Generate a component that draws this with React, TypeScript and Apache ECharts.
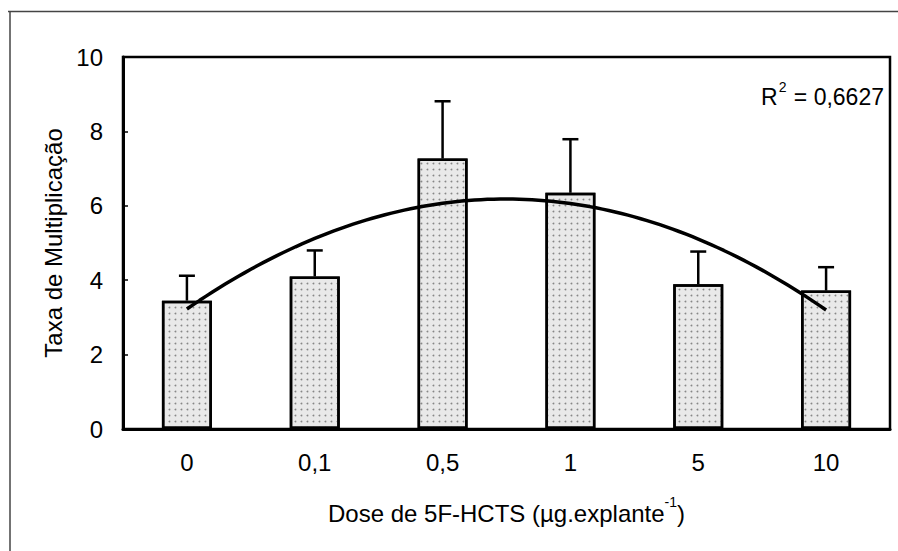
import React, { useEffect, useRef } from "react";
import * as echarts from "echarts";

const categories = ["0", "0,1", "0,5", "1", "5", "10"];
const means = [3.45, 4.1, 7.27, 6.35, 3.89, 3.72];
const errorTops = [4.12, 4.8, 8.81, 7.79, 4.77, 4.35];
const yTicks = [0, 2, 4, 6, 8, 10];
const r2Value = "0,6627";
const xTitleMain = "Dose de 5F-HCTS (µg.explante";
const xTitleSup = "-1";
const yTitle = "Taxa de Multiplicação";

// quadratic least-squares trendline fitted on category positions 1..n
function fitQuadratic(ys: number[]) {
  const n = ys.length;
  const xs = ys.map((_, i) => i + 1);
  let s0 = n, s1 = 0, s2 = 0, s3 = 0, s4 = 0, t0 = 0, t1 = 0, t2 = 0;
  xs.forEach((x, i) => {
    const y = ys[i];
    s1 += x; s2 += x * x; s3 += x ** 3; s4 += x ** 4;
    t0 += y; t1 += x * y; t2 += x * x * y;
  });
  const M = [
    [s0, s1, s2, t0],
    [s1, s2, s3, t1],
    [s2, s3, s4, t2],
  ];
  for (let c = 0; c < 3; c++) {
    for (let r = c + 1; r < 3; r++) {
      const f = M[r][c] / M[c][c];
      for (let k = c; k < 4; k++) M[r][k] -= f * M[c][k];
    }
  }
  const sol = [0, 0, 0];
  for (let r = 2; r >= 0; r--) {
    let s = M[r][3];
    for (let k = r + 1; k < 3; k++) s -= M[r][k] * sol[k];
    sol[r] = s / M[r][r];
  }
  return (x: number) => sol[0] + sol[1] * x + sol[2] * x * x;
}

export default function App() {
  const ref = useRef<HTMLDivElement>(null);
  useEffect(() => {
    if (!ref.current) return;
    const chart = echarts.init(ref.current, undefined, { renderer: "svg" });
    const f = fitQuadratic(means);
    const trend: number[][] = [];
    for (let k = 0; k <= 100; k++) {
      const x = 1 + (5 * k) / 100;
      trend.push([x, f(x)]);
    }
    const font = "'Liberation Sans', Arial, sans-serif";
    chart.setOption({
      animation: false,
      backgroundColor: "#fff",
      textStyle: { fontFamily: font, color: "#000" },
      graphic: [
        { type: "line", shape: { x1: 8, y1: 11.5, x2: 898, y2: 11.5 }, style: { stroke: "#444", lineWidth: 1.5 } },
        { type: "line", shape: { x1: 10, y1: 11, x2: 10, y2: 551 }, style: { stroke: "#444", lineWidth: 1.5 } },
        {
          type: "text",
          right: 14,
          top: 80,
          style: {
            text: "{b|R}{s|2}{b| = " + r2Value + "}",
            fontFamily: font,
            fill: "#000",
            rich: {
              b: { fontSize: 23, fontFamily: font, fill: "#000", verticalAlign: "bottom", lineHeight: 28 },
              s: { fontSize: 14, fontFamily: font, fill: "#000", verticalAlign: "top", lineHeight: 28, padding: [0, 1, 12, 1] },
            },
          },
        },
      ],
      grid: {
        left: 123,
        right: 8,
        top: 57,
        bottom: 122,
        show: true,
        borderColor: "#000",
        borderWidth: 2.5,
        backgroundColor: "transparent",
      },
      xAxis: [
        {
          type: "category",
          data: categories,
          name: "{b|" + xTitleMain + "}{s|" + xTitleSup + "}{b|)}",
          nameLocation: "middle",
          nameGap: 66,
          nameTextStyle: {
            fontSize: 24,
            color: "#000",
            fontFamily: font,
            rich: {
              b: { fontSize: 24, fontFamily: font, color: "#000", lineHeight: 30, verticalAlign: "bottom" },
              s: { fontSize: 14, fontFamily: font, color: "#000", lineHeight: 30, verticalAlign: "top", padding: [0, 0, 12, 0] },
            },
          },
          axisLine: { lineStyle: { color: "#000", width: 3 } },
          axisTick: { show: false },
          axisLabel: { fontSize: 24, color: "#000", margin: 21, fontFamily: font },
        },
        {
          type: "value",
          min: 0.5,
          max: 6.5,
          show: false,
        },
      ],
      yAxis: {
        type: "value",
        min: 0,
        max: 10,
        interval: 2,
        name: yTitle,
        nameLocation: "middle",
        nameGap: 58,
        nameTextStyle: { fontSize: 24, color: "#000", fontFamily: font },
        axisLine: { show: true, lineStyle: { color: "#000", width: 3 } },
        axisTick: { show: true, inside: true, length: 5, lineStyle: { color: "#000", width: 1.5 } },
        axisLabel: {
          fontSize: 24,
          color: "#000",
          margin: 20,
          fontFamily: font,
          formatter: (v: number) => (yTicks.includes(v) ? String(v) : ""),
        },
        splitLine: { show: false },
      },
      series: [
        {
          type: "bar",
          data: means,
          barWidth: 50,
          itemStyle: {
            color: "#e9e9e9",
            borderColor: "#000",
            borderWidth: 2.5,
            decal: {
              symbol: "circle",
              symbolSize: 0.6,
              dashArrayX: 3,
              dashArrayY: 3,
              color: "rgba(70,70,70,0.6)",
              backgroundColor: "#f4f4f4",
              rotation: 0,
            },
          },
          z: 2,
        },
        {
          type: "custom",
          data: means.map((m, i) => [i, m, errorTops[i]]),
          renderItem: (params: any, api: any) => {
            const i = api.value(0);
            const base = api.coord([i, api.value(1)]);
            const top = api.coord([i, api.value(2)]);
            return {
              type: "group",
              children: [
                { type: "line", shape: { x1: base[0], y1: base[1], x2: top[0], y2: top[1] }, style: { stroke: "#000", lineWidth: 2.5 } },
                { type: "line", shape: { x1: top[0] - 8, y1: top[1], x2: top[0] + 8, y2: top[1] }, style: { stroke: "#000", lineWidth: 2.5 } },
              ],
            };
          },
          z: 3,
        },
        {
          type: "line",
          xAxisIndex: 1,
          data: trend,
          showSymbol: false,
          smooth: false,
          lineStyle: { color: "#000", width: 3.5 },
          z: 4,
        },
      ],
    });
    return () => chart.dispose();
  }, []);
  return (
    <div
      ref={ref}
      style={{ position: "absolute", left: 0, top: 0, width: 898, height: 551 }}
    />
  );
}
